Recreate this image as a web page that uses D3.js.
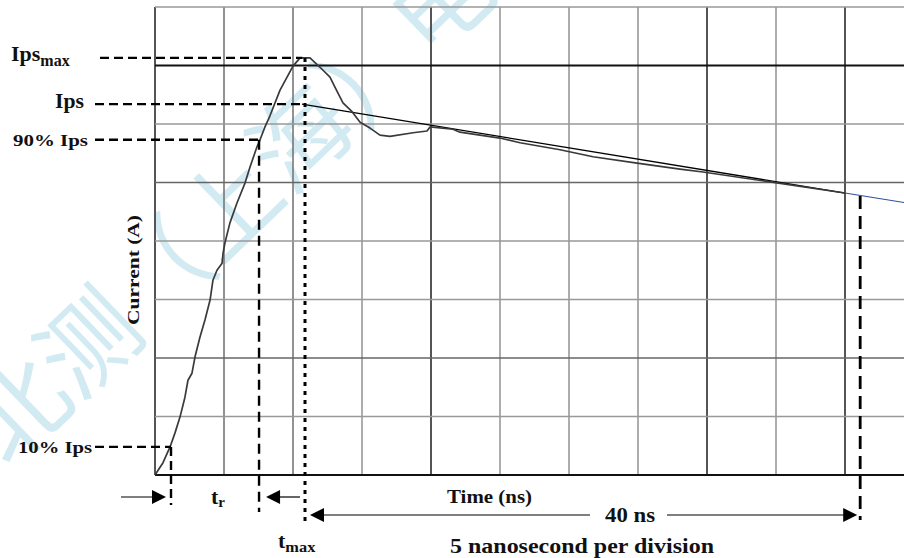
<!DOCTYPE html>
<html>
<head>
<meta charset="utf-8">
<script src="https://cdn.jsdelivr.net/npm/d3@7"></script>
<style>
  body { margin: 0; background: #fff; }
  text { font-family: "Liberation Serif", "Times New Roman", serif; font-weight: bold; fill: #111; }
</style>
</head>
<body>
<div id="wrapper"></div>
<script>
// waveform (time in ns, current in divisions)
const waveT = [0, 0.58, 1.09, 1.45, 1.81, 2.17, 2.39, 2.68, 2.9, 3.26, 3.62, 3.99, 4.2, 4.49, 4.86, 4.93,
  5.07, 5.43, 5.94, 6.52, 6.88, 7.39, 7.61, 7.97, 8.33, 9.06, 10.0, 10.51, 11.23, 11.96, 12.68, 13.04,
  13.62, 14.28, 14.86, 15.58, 16.3, 17.03, 18.7, 19.71, 19.93, 21.59, 22.1, 25.0, 26.45, 29.35, 31.74,
  34.93, 38.04, 39.71, 44.57, 50.0]
const waveI = [0, 0.21, 0.48, 0.72, 0.99, 1.33, 1.62, 1.74, 2.02, 2.36, 2.65, 2.99, 3.33, 3.5, 3.62, 3.79,
  3.97, 4.31, 4.65, 4.99, 5.26, 5.61, 5.73, 5.95, 6.14, 6.58, 6.99, 7.13, 7.13, 6.97, 6.8, 6.63,
  6.36, 6.21, 6.03, 5.93, 5.81, 5.79, 5.85, 5.88, 5.95, 5.91, 5.86, 5.76, 5.68, 5.56, 5.44,
  5.33, 5.23, 5.18, 5.01, 4.82]

// straight decay line through Ips and its blue extension
const fitT = [10.65, 50]
const fitI = [6.34, 4.82]
const extT = [50, 55]
const extI = [4.82, 4.63]

// reference levels and times
const levelLabels = ["Ips", "Ips", "90% Ips", "10% Ips"]
const levelValues = [7.13, 6.34, 5.73, 0.48]
const t10 = 1.16, t90 = 7.54, tMax = 10.87, tEnd = 51.1

const xTicks = d3.range(0, 60, 5)      // 5 ns per division
const yTicks = d3.range(0, 9, 1)
const darkX = [0, 20, 40, 50]
const midX = [5, 10]
const darkY = [5, 2]
const blackY = [0, 7]

const width = 904, height = 558
const svg = d3.select("#wrapper").append("svg")
  .attr("width", width).attr("height", height)
  .style("display", "block")

svg.append("rect").attr("width", width).attr("height", height).attr("fill", "#fff")

const x = d3.scaleLinear().domain([0, 55]).range([155, 914])
const y = d3.scaleLinear().domain([0, 8]).range([475, 7])

// watermark
svg.append("text")
  .attr("transform", "translate(8,470) rotate(-44)")
  .style("font-family", "'Noto Sans CJK SC'")
  .style("font-weight", "normal")
  .style("font-size", "98px")
  .style("fill", "#d2eaf2")
  .text("北测（上海）电")

// grid
const grid = svg.append("g")
grid.selectAll(".vg").data(xTicks).join("line")
  .attr("x1", d => x(d)).attr("x2", d => x(d))
  .attr("y1", y(8)).attr("y2", y(0))
  .attr("stroke", d => darkX.includes(d) ? "#555" : midX.includes(d) ? "#777" : "#999")
  .attr("stroke-width", d => darkX.includes(d) ? 2 : 1.6)
grid.selectAll(".hg").data(yTicks).join("line")
  .attr("x1", x(0)).attr("x2", width)
  .attr("y1", d => y(d)).attr("y2", d => y(d))
  .attr("stroke", d => blackY.includes(d) ? "#111" : darkY.includes(d) ? "#666" : "#999")
  .attr("stroke-width", d => blackY.includes(d) ? 2 : 1.7)

// curves
const line = d3.line().x(d => x(d[0])).y(d => y(d[1]))
svg.append("path")
  .attr("d", line(d3.zip(fitT, fitI)))
  .attr("fill", "none").attr("stroke", "#000").attr("stroke-width", 1.3)
svg.append("path")
  .attr("d", line(d3.zip(extT, extI)))
  .attr("fill", "none").attr("stroke", "#2c4f9c").attr("stroke-width", 1.1)
svg.append("path")
  .attr("d", line(d3.zip(waveT, waveI)))
  .attr("fill", "none").attr("stroke", "#3a3a3a").attr("stroke-width", 1.7)
  .attr("stroke-linejoin", "round")

// dashed level lines
const levelEnds = [tMax - 0.2, tMax - 0.2, t90, t10]
const levelStarts = [100, 95, 95, 95]
svg.selectAll(".lvl").data(levelValues).join("line")
  .attr("x1", (d, i) => levelStarts[i]).attr("x2", (d, i) => x(levelEnds[i]))
  .attr("y1", d => y(d)).attr("y2", d => y(d))
  .attr("stroke", "#000").attr("stroke-width", 2.4)
  .attr("stroke-dasharray", "9,5")

// vertical markers
const dashV = (t, i0, yBottom, dash, w) => svg.append("line")
  .attr("x1", x(t)).attr("x2", x(t))
  .attr("y1", y(i0)).attr("y2", yBottom)
  .attr("stroke", "#000").attr("stroke-width", w)
  .attr("stroke-dasharray", dash)
dashV(t10, levelValues[3], 505, "9,5", 2.4)
dashV(t90, levelValues[2], 512, "10,6", 2.4)
dashV(tMax, levelValues[0], 525, "4,5", 3)
dashV(tEnd, 4.77, 520, "13,7", 2.8)

// arrows
const arrow = (x1, x2, yy) => {
  const dir = Math.sign(x2 - x1)
  svg.append("line").attr("x1", x1).attr("x2", x2 - dir * 10)
    .attr("y1", yy).attr("y2", yy).attr("stroke", "#000").attr("stroke-width", 1.2)
  svg.append("path")
    .attr("d", `M${x2},${yy} L${x2 - dir * 14},${yy - 7} L${x2 - dir * 14},${yy + 7} Z`)
    .attr("fill", "#000")
}
arrow(121, x(t10) - 5, 497)
arrow(300, x(t90) + 7, 497)
arrow(590, x(tMax) + 5, 515)
arrow(667, x(tEnd) - 3, 515)

// labels (reference type is wide, so stretch to the measured widths)
const label = (tx, ty, size, txt, len) => svg.append("text")
  .attr("x", tx).attr("y", ty).style("font-size", size + "px")
  .attr("textLength", len).attr("lengthAdjust", "spacingAndGlyphs")
  .text(txt)

const ipsMax = svg.append("text").attr("x", 11).attr("y", 61).style("font-size", "22px")
ipsMax.append("tspan").text(levelLabels[0])
ipsMax.append("tspan").attr("dy", 5).style("font-size", "16px").text("max")
label(55, y(levelValues[1]) + 4, 21, levelLabels[1], 29)
label(13, y(levelValues[2]) + 6, 17, levelLabels[2], 75)
label(18, y(levelValues[3]) + 6, 17, levelLabels[3], 74)

svg.append("text")
  .attr("transform", "translate(139,325) rotate(-90)")
  .style("font-size", "17px")
  .attr("textLength", 110).attr("lengthAdjust", "spacingAndGlyphs")
  .text("Current (A)")

const tr = svg.append("text").attr("x", 211).attr("y", 504).style("font-size", "22px")
tr.append("tspan").text("t")
tr.append("tspan").attr("dy", 3).style("font-size", "15px").text("r")

const tm = svg.append("text").attr("x", 278).attr("y", 548).style("font-size", "22px")
tm.append("tspan").text("t")
tm.append("tspan").attr("dy", 4).style("font-size", "15px")
  .attr("textLength", 30).attr("lengthAdjust", "spacingAndGlyphs").text("max")

label(447, 503, 18, "Time (ns)", 85)
label(605, 522, 20, "40 ns", 50)
label(450, 553, 21, "5 nanosecond per division", 264)
</script>
</body>
</html>
